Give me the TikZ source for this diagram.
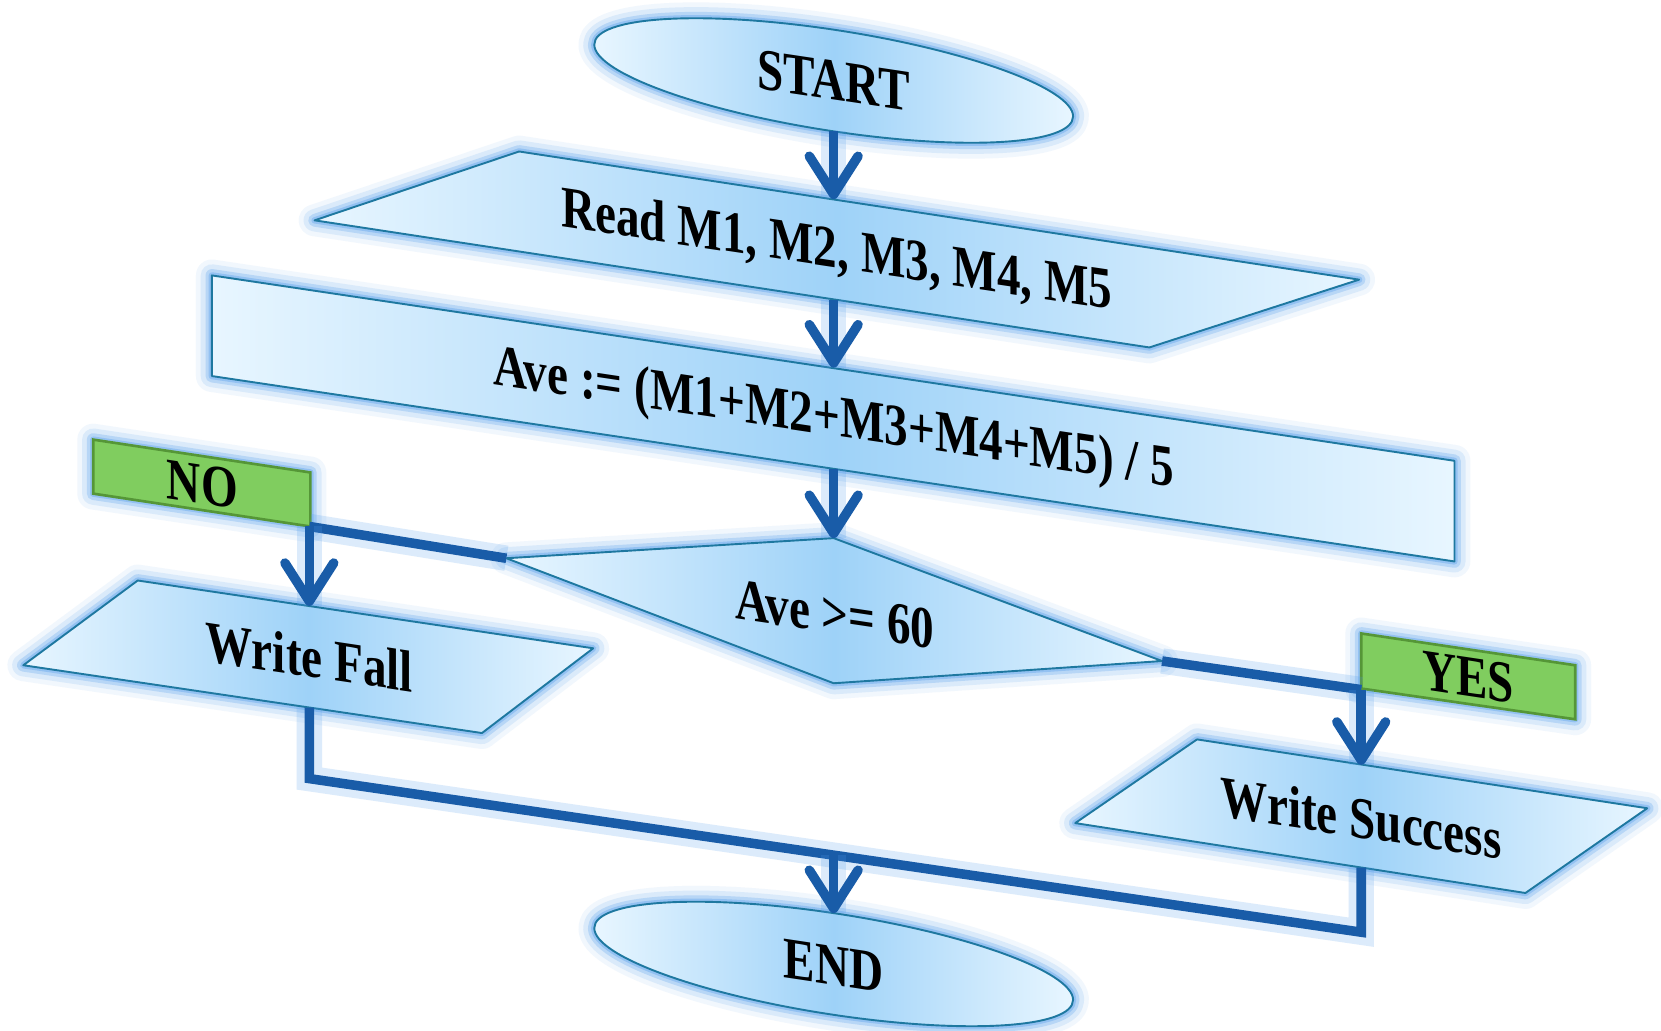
\documentclass[tikz,border=0pt]{standalone}
\usepackage{fontspec}
\setmainfont{Liberation Serif}
\usetikzlibrary{arrows.meta}
\definecolor{glowc}{RGB}{80,155,235}
\definecolor{edgec}{RGB}{30,120,160}
\definecolor{fillL}{RGB}{232,246,255}
\definecolor{fillM}{RGB}{158,210,248}
\definecolor{arrowc}{RGB}{25,92,168}
\definecolor{greenF}{RGB}{128,205,95}
\definecolor{greenE}{RGB}{85,150,55}
\begin{document}
\begin{tikzpicture}[x=1pt,y=-1pt,
  glow/.style={preaction={draw=glowc,line width=30pt,opacity=0.08,line join=round},
               preaction={draw=glowc,line width=21pt,opacity=0.14,line join=round},
               preaction={draw=glowc,line width=12pt,opacity=0.25,line join=round},
               preaction={draw=glowc,line width=6pt,opacity=0.35,line join=round}},
  shapebox/.style={glow, draw=edgec, line width=1.8pt, line join=round,
                   left color=fillL, right color=fillL, middle color=fillM},
  greenbox/.style={glow, draw=greenE, line width=2.5pt, fill=greenF},
  txt/.style={font=\bfseries\fontsize{44.5}{50}\selectfont, yslant=-0.15, yscale=1.25, inner sep=0pt},
  conn/.style={draw=arrowc, line width=9pt,
               preaction={draw=glowc, line width=24pt, opacity=0.2, arrows=-}},
  arr/.style={conn, -{Straight Barb[length=36pt,width=46pt,round]}},
]
\fill[white] (0,0) rectangle (1568,973);
\useasboundingbox (0,0) rectangle (1568,973);

% ---------- shapes ----------
% START
\begin{scope}[shift={(787,76)}, yslant=-0.15]
  \draw[shapebox] (0,0) ellipse [x radius=226, y radius=48];
\end{scope}
% Read
\draw[shapebox] (490,143) -- (1283,264) -- (1085,328) -- (297,208) -- cycle;
% Ave
\draw[shapebox] (200,260) -- (1373,435) -- (1373,530) -- (200,355) -- cycle;
% Decision
\draw[shapebox] (787,508) -- (1097,624) -- (787,645) -- (478,527) -- cycle;
% Write Fall
\draw[shapebox] (130,548) -- (560,612) -- (455,692) -- (22,628) -- cycle;
% Write Success
\draw[shapebox] (1130,698) -- (1555,763) -- (1440,843) -- (1015,777) -- cycle;
% END
\begin{scope}[shift={(787,910)}, yslant=-0.15]
  \draw[shapebox] (0,0) ellipse [x radius=226, y radius=48];
\end{scope}
% NO / YES boxes
\draw[greenbox] (88,415) -- (293,446) -- (293,497) -- (88,466) -- cycle;
\draw[greenbox] (1285,598) -- (1487,628) -- (1487,679) -- (1285,650) -- cycle;

% ---------- texts ----------
\node[txt] (start) at (787,76) {START};
\node[txt] (read) at (790,238) {Read M1, M2, M3, M4, M5};
\node[txt] (ave) at (787,398) {Ave := (M1+M2+M3+M4+M5) / 5};
\node[txt] (cond) at (788,580) {Ave >= 60};
\node[txt] (wfall) at (292,620) {Write Fall};
\node[txt] (wsucc) at (1285,772) {Write Success};
\node[txt] (endn) at (787,912) {END};
\node[txt] (no) at (191,457) {NO};
\node[txt] (yes) at (1386,639) {YES};

% ---------- connection points ----------
\coordinate (start-s) at (787,124);
\coordinate (read-n) at (787,188);
\coordinate (read-s) at (787,283);
\coordinate (ave-n) at (787,347);
\coordinate (ave-s) at (787,443);
\coordinate (cond-n) at (787,508);
\coordinate (cond-w) at (478,527);
\coordinate (cond-e) at (1097,624);
\coordinate (no-c) at (292,497);
\coordinate (yes-c) at (1285,651);
\coordinate (wfall-n) at (292,572);
\coordinate (wfall-s) at (292,668);
\coordinate (wsucc-n) at (1285,722);
\coordinate (wsucc-s) at (1285,819);
\coordinate (jl) at (292,735);
\coordinate (jr) at (1285,880);
\coordinate (jm) at (787,807);
\coordinate (end-n) at (787,862);

% ---------- connectors ----------
\draw[arr] (start-s) -- (read-n);
\draw[arr] (read-s) -- (ave-n);
\draw[arr] (ave-s) -- (cond-n);
\draw[conn] (cond-w) -- (no-c);
\draw[arr] (no-c) -- (wfall-n);
\draw[conn] (cond-e) -- (yes-c);
\draw[arr] (yes-c) -- (wsucc-n);
\draw[conn, line join=miter] (wfall-s) -- (jl) -- (jr) -- (wsucc-s);
\draw[arr] (jm) -- (end-n);
\end{tikzpicture}
\end{document}
